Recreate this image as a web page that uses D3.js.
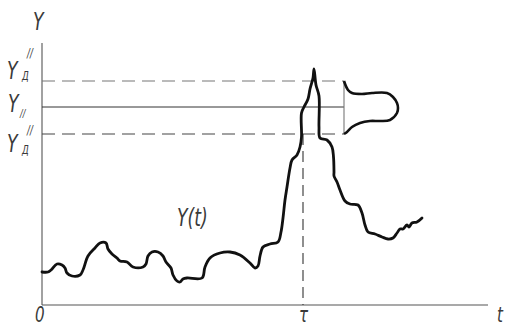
<!DOCTYPE html>
<html>
<head>
<meta charset="utf-8">
<script src="https://cdn.jsdelivr.net/npm/d3@7"></script>
<style>
  html, body { margin: 0; padding: 0; background: #fff; }
  svg { display: block; }
  .lbl { font-family: "DejaVu Sans", sans-serif; font-style: italic; font-weight: 200; fill: #3a3a3a; }
</style>
</head>
<body>
<svg id="chart" width="507" height="329"></svg>
<script>
// Process realisation Y(t): time and level samples
const tValues = [0, 6, 9, 15, 20, 23, 25, 30, 38, 41, 46, 53, 58, 64, 66, 70, 75, 78, 85, 91,
  101, 104, 106, 110, 116, 121, 124, 129, 131, 135, 138, 141, 145, 160, 163, 168, 178, 188, 198, 208,
  213, 216, 218, 221, 228, 236, 239, 241, 243, 245, 248, 250, 255, 258, 259.5, 259.5, 262, 266, 268, 271,
  272, 274, 277, 277, 278, 285, 290, 291.5, 292, 292, 295, 298, 303, 308, 316, 320, 323, 326, 333, 340,
  346, 351, 355, 358, 361, 365, 367, 370, 375, 380];
const yValues = [33, 33, 35, 41, 40, 37, 32, 29, 30, 35, 49, 57, 62, 62, 56, 51, 47, 44, 43, 38,
  38, 41, 49, 53, 53, 49, 43, 37, 30, 24, 23, 26, 27, 27, 38, 47, 52, 53, 50, 42,
  37, 39, 49, 58, 61, 63, 73, 87, 105, 118, 137, 145, 150, 158, 168, 192, 198, 206, 216, 227,
  236, 220, 209, 178, 167, 165, 158, 148, 133, 129, 123, 115, 104, 101, 100, 92, 80, 73, 71, 68,
  66, 67, 72, 76, 76, 80, 78, 82, 83, 87];

// Reference levels and the moment tau
const levelUpper = 224;   // Y_Д'' upper
const levelMid = 198;     // Y_||
const levelLower = 171;   // Y_Д'' lower
const tauT = 261;
const distBaseT = 302;    // t where the level distribution is drawn

// Distribution of levels around tau: spread (along t) and level
const distSpread = [0, 4, 8, 18, 28, 43, 49, 53, 54, 53, 46, 36, 26, 16, 8, 3, 0];
const distLevel = [224, 215, 212, 211, 212, 212, 208, 202, 197, 192, 185, 184, 184, 182, 178, 173, 171];

const svg = d3.select("#chart");
const x = d3.scaleLinear().domain([0, 446]).range([42, 488]);
const y = d3.scaleLinear().domain([0, 262]).range([305, 43]);

// Axes
svg.append("line").attr("x1", x(0)).attr("x2", x(0)).attr("y1", y(262)).attr("y2", y(0))
  .attr("stroke", "#8a8a8a").attr("stroke-width", 1.6);
svg.append("line").attr("x1", x(0)).attr("x2", x(446)).attr("y1", y(0)).attr("y2", y(0))
  .attr("stroke", "#555").attr("stroke-width", 1.1);

// Level lines
svg.append("line").attr("x1", x(0)).attr("x2", x(distBaseT)).attr("y1", y(levelUpper)).attr("y2", y(levelUpper))
  .attr("stroke", "#777").attr("stroke-width", 1.1).attr("stroke-dasharray", "13,7");
svg.append("line").attr("x1", x(0)).attr("x2", x(distBaseT)).attr("y1", y(levelMid)).attr("y2", y(levelMid))
  .attr("stroke", "#333").attr("stroke-width", 1);
svg.append("line").attr("x1", x(0)).attr("x2", x(distBaseT)).attr("y1", y(levelLower)).attr("y2", y(levelLower))
  .attr("stroke", "#444").attr("stroke-width", 1.1).attr("stroke-dasharray", "13,7");

// Vertical at tau
svg.append("line").attr("x1", x(tauT)).attr("x2", x(tauT)).attr("y1", y(levelLower)).attr("y2", y(0))
  .attr("stroke", "#333").attr("stroke-width", 1.1).attr("stroke-dasharray", "11,6");

// Baseline of the distribution
svg.append("line").attr("x1", x(distBaseT)).attr("x2", x(distBaseT)).attr("y1", y(levelUpper)).attr("y2", y(levelLower))
  .attr("stroke", "#777").attr("stroke-width", 1.1);

// Distribution outline
const distLine = d3.line()
  .x((d, i) => x(distBaseT + distSpread[i]))
  .y((d, i) => y(distLevel[i]))
  .curve(d3.curveCatmullRom.alpha(0.5));
svg.append("path").datum(distSpread).attr("d", distLine)
  .attr("fill", "none").attr("stroke", "#111").attr("stroke-width", 2.6).attr("stroke-linejoin", "round");

// Realisation Y(t)
const line = d3.line()
  .x((d, i) => x(tValues[i]))
  .y((d, i) => y(yValues[i]))
  .curve(d3.curveCatmullRom.alpha(0.5));
svg.append("path").datum(tValues).attr("d", line)
  .attr("fill", "none").attr("stroke", "#111").attr("stroke-width", 2.8)
  .attr("stroke-linejoin", "round").attr("stroke-linecap", "round");

// Labels
function label(txt, px, py, size) {
  svg.append("text").attr("class", "lbl")
    .attr("transform", `translate(${px},${py}) scale(0.72,1)`)
    .attr("font-size", size).text(txt);
}
label("Y", 33, 30, 24);
label("Y", 7, 79, 24);
label("//", 27, 57, 12);
label("Д", 22, 80, 12);
label("Y", 8, 112, 24);
label("//", 20, 117, 11);
label("Y", 7, 152, 24);
label("//", 27, 134, 12);
label("Д", 22, 154, 12);
label("Y(t)", x(135), y(79), 24);
label("0", 35, 322, 21);
label("τ", 299, 322, 21);
label("t", 497, 322, 21);
</script>
</body>
</html>
